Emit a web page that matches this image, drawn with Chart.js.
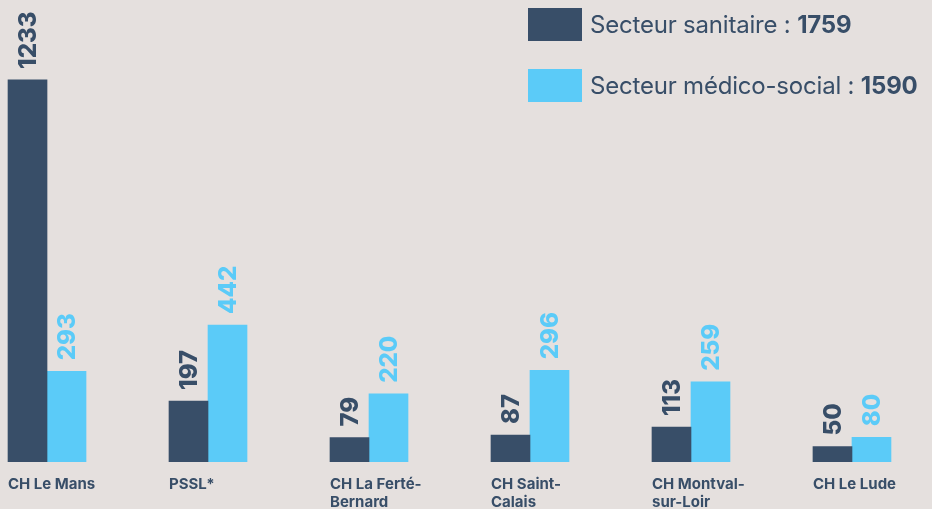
<!DOCTYPE html>
<html lang="fr">
<head>
<meta charset="utf-8">
<script src="https://cdn.jsdelivr.net/npm/chart.js@4.4.0/dist/chart.umd.min.js"></script>
<style>
  html, body { margin: 0; padding: 0; background: #e5e0de; }
  #wrap { position: relative; width: 932px; height: 509px; }
  #legend { position: absolute; left: 528px; top: 8px; font-family: Inter, "Noto Sans", sans-serif; color: #384e68; font-size: 24px; }
  .item { display: flex; align-items: center; height: 33px; margin-bottom: 28px; white-space: nowrap; letter-spacing: -0.2px; }
  .box { width: 54px; height: 33px; margin-right: 8px; }
  .item b { font-weight: 700; }
</style>
</head>
<body>
<div id="wrap">
  <canvas id="barChart" width="932" height="509"></canvas>
  <div id="legend">
    <div class="item"><span class="box" style="background:#384e68"></span>Secteur sanitaire :&nbsp;<b>1759</b></div>
    <div class="item"><span class="box" style="background:#5bcbf8"></span>Secteur médico-social :&nbsp;<b>1590</b></div>
  </div>
</div>
<script>
// Data
const categories = [
    ['CH Le Mans'],
    ['PSSL*'],
    ['CH La Ferté-', 'Bernard'],
    ['CH Saint-', 'Calais'],
    ['CH Montval-', 'sur-Loir'],
    ['CH Le Lude']
];
const sanitaire = [1233, 197, 79, 87, 113, 50];
const medicoSocial = [293, 442, 220, 296, 259, 80];

const darkBlue = '#384e68';
const lightBlue = '#5bcbf8';

// Rotated value labels above each bar
const valueLabels = {
    id: 'valueLabels',
    afterDatasetsDraw(chart) {
        const ctx = chart.ctx;
        chart.data.datasets.forEach((ds, di) => {
            chart.getDatasetMeta(di).data.forEach((bar, i) => {
                ctx.save();
                ctx.translate(bar.x, bar.y - 11);
                ctx.rotate(-Math.PI / 2);
                ctx.font = '800 24px Inter, "Noto Sans", sans-serif';
                ctx.fillStyle = ds.backgroundColor;
                ctx.textAlign = 'left';
                ctx.textBaseline = 'middle';
                ctx.fillText(String(ds.data[i].y), 0, 1);
                ctx.restore();
            });
        });
    }
};

const toPoints = values => values.map((v, i) => ({ x: i, y: v }));

new Chart(document.getElementById('barChart').getContext('2d'), {
    type: 'bar',
    data: {
        datasets: [
            { label: 'Secteur sanitaire', data: toPoints(sanitaire), backgroundColor: darkBlue },
            { label: 'Secteur médico-social', data: toPoints(medicoSocial), backgroundColor: lightBlue }
        ]
    },
    options: {
        responsive: false,
        animation: false,
        barThickness: 39,
        layout: { padding: 0 },
        plugins: {
            legend: { display: false },
            tooltip: { enabled: false }
        },
        scales: {
            x: {
                type: 'linear',
                min: -0.292,
                max: 5.497,
                offset: false,
                grid: { display: false },
                border: { display: false },
                afterBuildTicks: axis => { axis.ticks = categories.map((c, i) => ({ value: i })); },
                afterFit: axis => {
                    axis.height = 47;
                    axis.paddingLeft = 0;
                    axis.paddingRight = 0;
                },
                ticks: {
                    autoSkip: false,
                    maxRotation: 0,
                    align: 'start',
                    labelOffset: -39,
                    padding: 5,
                    color: darkBlue,
                    font: { family: 'Inter, "Noto Sans", sans-serif', size: 15, weight: '700', lineHeight: 1.2 },
                    callback: value => categories[value]
                }
            },
            y: {
                display: false,
                min: 0,
                max: 1491
            }
        }
    },
    plugins: [valueLabels]
});
</script>
</body>
</html>
